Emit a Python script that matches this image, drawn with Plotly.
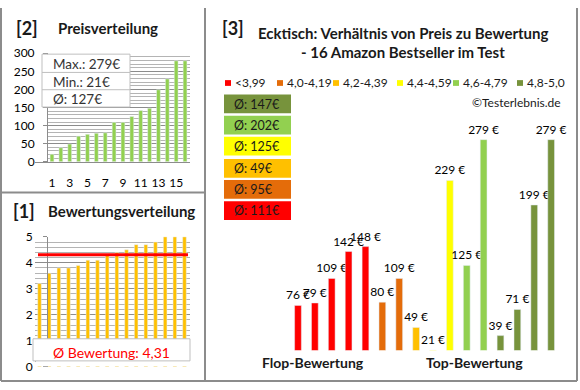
import plotly.graph_objects as go

# ---------------- data ----------------
positions = list(range(1, 17))
prices_sorted = [21, 39, 49, 71, 76, 79, 80, 109, 109, 125, 142, 148, 199, 229, 279, 279]
ratings_sorted = [3.2, 3.6, 3.8, 3.8, 3.9, 4.1, 4.1, 4.3, 4.4, 4.5, 4.7, 4.7, 4.8, 5.0, 5.0, 5.0]
price_max, price_min, price_avg = 279, 21, 127
rating_avg = 4.31

group_names = ["<3,99", "4,0-4,19", "4,2-4,39", "4,4-4,59", "4,6-4,79", "4,8-5,0"]
group_colors = ["#FF0000", "#E46C0A", "#FFC000", "#FFFF00", "#92D050", "#77933C"]
group_prices = [[76, 79, 109, 142, 148], [80, 109], [49], [21, 229], [125, 279], [39, 71, 199, 279]]
group_avgs = [111, 95, 49, 125, 202, 147]

W, H = 580, 390
FONT = "Lato"
GRID_MAJ = "#8C8C8C"
GRID_MIN = "#B4B4B4"
BORDER = "#8C8C8C"


def fx(x):
    return x / W


def fy(y):
    return 1 - y / H


fig = go.Figure()

# ---- [2] price distribution ----
fig.add_trace(go.Bar(x=positions, y=prices_sorted, marker_color="#92D050", width=0.43,
                     xaxis="x", yaxis="y", showlegend=False, hoverinfo="skip"))

# ---- [1] rating distribution ----
fig.add_trace(go.Bar(x=positions, y=ratings_sorted, marker_color="#FFC000", width=0.37,
                     xaxis="x2", yaxis="y2", showlegend=False, hoverinfo="skip"))

# ---- [3] price by rating group ----
slot = 1
for name, col, prices in zip(group_names, group_colors, group_prices):
    xs = list(range(slot, slot + len(prices)))
    slot += len(prices)
    fig.add_trace(go.Bar(x=xs, y=prices, marker_color=col, width=0.4, name=name,
                         text=[f"{p} €" for p in prices], textposition="outside",
                         constraintext="none", cliponaxis=False,
                         textfont=dict(family=FONT, size=12, color="#000000"),
                         xaxis="x3", yaxis="y3", showlegend=False, hoverinfo="skip"))

axis_font = dict(family=FONT, size=12, color="#000000")

fig.update_layout(
    width=W, height=H, margin=dict(l=0, r=0, t=0, b=0),
    paper_bgcolor="white", plot_bgcolor="white",
    barmode="overlay", font=dict(family=FONT),
    xaxis=dict(domain=[fx(48), fx(190)], range=[0.55, 16.56], tickvals=[1, 3, 5, 7, 9, 11, 13, 15],
               showgrid=False, showline=True, linecolor=GRID_MAJ, linewidth=1, ticks="",
               tickfont=axis_font, ticklabelstandoff=10, zeroline=False, fixedrange=True),
    yaxis=dict(domain=[fy(160), fy(47)], range=[0, 300], dtick=50, showgrid=True, gridcolor=GRID_MAJ,
               minor=dict(dtick=10, showgrid=True, gridcolor=GRID_MIN, gridwidth=1),
               showline=True, linecolor=GRID_MAJ, ticks="outside", ticklen=4, tickcolor=GRID_MAJ,
               tickfont=axis_font, ticklabelstandoff=6, zeroline=False, fixedrange=True),
    xaxis2=dict(domain=[fx(35), fx(190)], range=[0.535, 16.57], showticklabels=False, showgrid=False,
                showline=True, linecolor=GRID_MAJ, ticks="", zeroline=False, fixedrange=True),
    yaxis2=dict(domain=[fy(373), fy(238)], range=[0, 5], dtick=1, showgrid=True, gridcolor=GRID_MAJ,
                minor=dict(dtick=0.2, showgrid=True, gridcolor=GRID_MIN, gridwidth=1),
                showline=True, linecolor=GRID_MAJ, ticks="outside", ticklen=4, tickcolor=GRID_MAJ,
                tickfont=axis_font, ticklabelstandoff=8, zeroline=False, fixedrange=True),
    xaxis3=dict(domain=[fx(281.1), fx(568)], range=[0, 17], visible=False, fixedrange=True),
    yaxis3=dict(domain=[fy(356), fy(119.1)], range=[21, 300], visible=False, fixedrange=True),
)

shapes = []
annots = []


def line(x0, y0, x1, y1, color=BORDER, width=2):
    shapes.append(dict(type="line", xref="paper", yref="paper", x0=fx(x0), y0=fy(y0), x1=fx(x1), y1=fy(y1),
                       line=dict(color=color, width=width)))


def rect(x0, y0, x1, y1, fill, border=None, bw=1):
    shapes.append(dict(type="rect", xref="paper", yref="paper", x0=fx(x0), y0=fy(y0), x1=fx(x1), y1=fy(y1),
                       fillcolor=fill, line=dict(color=border if border else fill, width=bw if border else 0)))


def text(t, x, y, size=12, color="#000000", bold=False, xanchor="center"):
    annots.append(dict(text=f"<b>{t}</b>" if bold else t, x=fx(x), y=fy(y), xref="paper", yref="paper",
                       xanchor=xanchor, yanchor="middle", showarrow=False,
                       font=dict(family=FONT, size=size, color=color)))


# panel borders
line(1, 0, 1, 388)
line(1, 388, 577, 388)
line(577, 0, 577, 388)
line(205, 0, 205, 388)
line(1, 192, 205, 192)

# ---- [2] decorations ----
text("[2]", 27, 21, size=18, color="#1a1a1a", bold=True)
text("Preisverteilung", 108, 21, size=15, color="#1a1a1a", bold=True)
rect(42, 48, 130, 103, "white", "#BFBFBF", 1)
line(42, 67, 130, 67, "#BFBFBF", 1)
line(42, 85, 130, 85, "#BFBFBF", 1)
text(f"Max.: {price_max}€", 51, 58, size=13.5, color="#333333", xanchor="left")
text(f"Min.: {price_min}€", 51, 76.5, size=13.5, color="#333333", xanchor="left")
text(f"Ø: {price_avg}€", 51, 94.5, size=13.5, color="#333333", xanchor="left")

# ---- [1] decorations ----
text("[1]", 24, 211, size=18, color="#1a1a1a", bold=True)
text("Bewertungsverteilung", 121, 211, size=15, color="#1a1a1a", bold=True)
shapes.append(dict(type="line", xref="paper", yref="y2", x0=fx(38), x1=fx(188), y0=rating_avg, y1=rating_avg,
                   line=dict(color="#FF0000", width=3)))
rect(36, 366, 190, 372.5, "white")
rect(33, 344, 190, 367, "white", "#BFBFBF", 1)
text(f"Ø Bewertung: {str(rating_avg).replace('.', ',')}", 111, 358, size=14, color="#FF0000")

# ---- [3] decorations ----
text("[3]", 233, 21, size=18, color="#1a1a1a", bold=True)
text("Ecktisch: Verhältnis von Preis zu Bewertung", 403, 26, size=15, color="#1a1a1a", bold=True)
text("- 16 Amazon Bestseller im Test", 403, 46, size=15, color="#1a1a1a", bold=True)

legend_x = [225, 277, 333, 397, 453, 517]
for lx, name, col in zip(legend_x, group_names, group_colors):
    rect(lx, 75, lx + 6, 81, col)
    text(name.replace("<", "&lt;"), lx + 8, 78, size=12, color="#1a1a1a", xanchor="left")

text("©Testerlebnis.de", 516, 98, size=12, color="#1a1a1a")

box_tops = [90, 112, 134, 157, 179, 201]
for top, col, avg in zip(box_tops, group_colors[::-1], group_avgs[::-1]):
    rect(224, top, 291, top + 19.5, col)
    text(f"Ø: {avg}€", 232, top + 10, size=12.5, color="#1a1a1a", xanchor="left")

text("Flop-Bewertung", 313, 369, size=14, color="#1a1a1a", bold=True)
text("Top-Bewertung", 474, 369, size=14, color="#1a1a1a", bold=True)

fig.update_layout(shapes=shapes, annotations=annots)
fig.write_html("out.html", config={"displayModeBar": False},
               post_script="document.body.style.margin='0';document.body.style.padding='0';"
                           "document.body.style.overflow='hidden';")
